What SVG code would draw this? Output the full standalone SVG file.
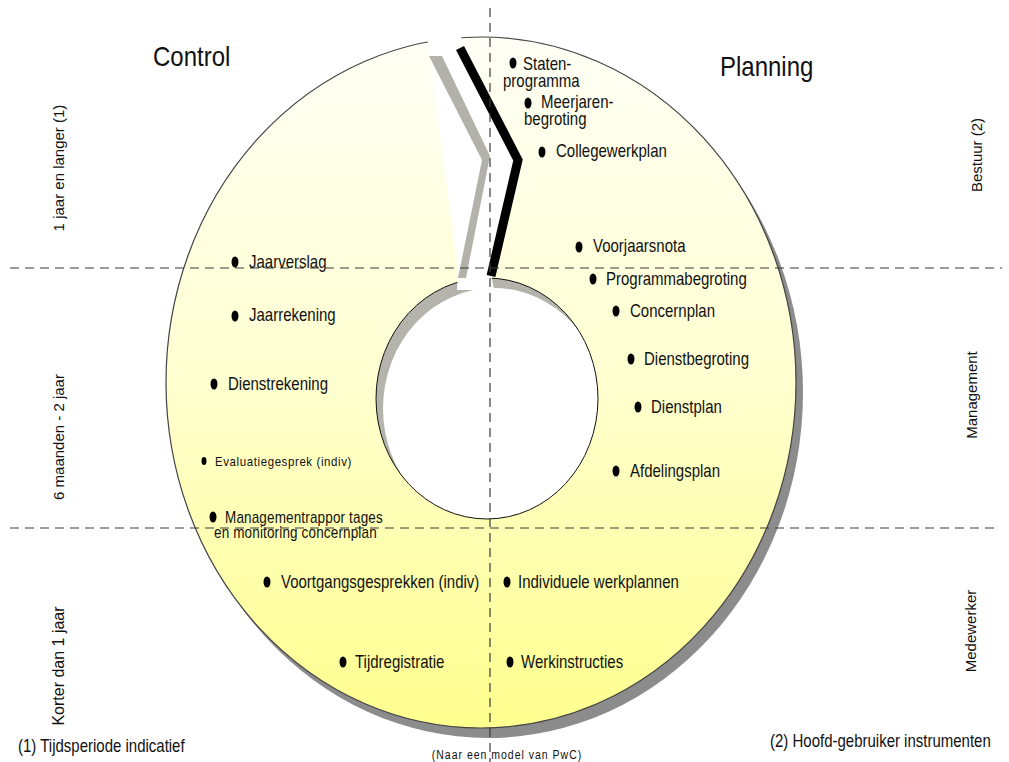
<svg xmlns="http://www.w3.org/2000/svg" width="1009" height="762" viewBox="0 0 1009 762">
<style>
.t{font-family:"Liberation Sans",Arial,sans-serif;font-size:15px;fill:#111}
.big{font-size:24px}
.sm{font-size:11.5px;letter-spacing:0.6px}
.mr{font-size:13.5px;letter-spacing:0.15px}
.note{font-size:10.5px;letter-spacing:1px}
.dash{stroke:#3a3a3a;stroke-width:1.2;stroke-dasharray:9 6;fill:none}
.b{fill:#000}
</style>
<defs>
<linearGradient id="yel" x1="0" y1="37" x2="0" y2="728" gradientUnits="userSpaceOnUse">
<stop offset="0" stop-color="#fffff6"/>
<stop offset="0.5" stop-color="#ffffd0"/>
<stop offset="1" stop-color="#ffff8e"/>
</linearGradient>
</defs>
<rect width="1009" height="762" fill="#fff"/>
<g id="ring">
<ellipse cx="488" cy="392.5" rx="315" ry="345.5" fill="#8c8c8c"/>
<ellipse cx="487" cy="398.5" rx="111" ry="120.5" fill="#b4b4ac"/>
<ellipse cx="494" cy="408.5" rx="111" ry="120.5" fill="#fff"/>
<path d="M166,382.5a315,345.5 0 1,0 630,0a315,345.5 0 1,0 -630,0ZM376,398.5a111,120.5 0 1,0 222,0a111,120.5 0 1,0 -222,0Z" fill="url(#yel)" fill-rule="evenodd" stroke="none"/>
<ellipse cx="481" cy="382.5" rx="315" ry="345.5" fill="none" stroke="#444" stroke-width="1.2"/>
<ellipse cx="487" cy="398.5" rx="111" ry="120.5" fill="none" stroke="#111" stroke-width="1"/>
<polygon points="422,18 428,42 458,272 457,290 494,290 491,274 518,160 461,49 462,18" fill="#fff"/>
<polygon points="429,56 442,56 490,156 466,278 458,278 482,160" fill="#b2b2aa"/>
<polyline points="460,48 518,160 491,276" fill="none" stroke="#000" stroke-width="9" stroke-linejoin="miter"/>
</g>
<g id="connectors">
<line class="dash" x1="490" y1="8" x2="490" y2="762"/>
<line class="dash" x1="10" y1="268" x2="1002" y2="268"/>
<line class="dash" x1="10" y1="528" x2="996" y2="528"/>
</g>
<g id="headers">
<text class="t big" transform="matrix(1 0 0 1.17 153 66)">Control</text>
<text class="t big" transform="matrix(1 0 0 1.17 720 76)">Planning</text>
</g>
<g id="side-left">
<text class="t" text-anchor="middle" transform="translate(64,168) rotate(-90)">1 jaar en langer (1)</text>
<text class="t" text-anchor="middle" transform="translate(64,437) rotate(-90)">6 maanden - 2 jaar</text>
<text class="t" text-anchor="middle" style="font-size:16px" transform="translate(64,666) rotate(-90)">Korter dan 1 jaar</text>
</g>
<g id="side-right">
<text class="t" text-anchor="middle" transform="translate(982,155) rotate(-90)">Bestuur (2)</text>
<text class="t" text-anchor="middle" transform="translate(977,395) rotate(-90)">Management</text>
<text class="t" text-anchor="middle" transform="translate(976,631) rotate(-90)">Medewerker</text>
</g>
<g id="staten"><ellipse class="b" cx="513" cy="63" rx="3.5" ry="5.5"/><text class="t" transform="matrix(1 0 0 1.17 523 70)">Staten-</text><text class="t" transform="matrix(1 0 0 1.17 503 87)">programma</text></g>
<g id="meerjaren"><ellipse class="b" cx="528" cy="103" rx="3.5" ry="5.5"/><text class="t" transform="matrix(1 0 0 1.17 541 108)">Meerjaren-</text><text class="t" transform="matrix(1 0 0 1.17 524 125)">begroting</text></g>
<g id="college"><ellipse class="b" cx="542" cy="152" rx="3.5" ry="5.5"/><text class="t" transform="matrix(1 0 0 1.17 556 157)">Collegewerkplan</text></g>
<g id="voorjaarsnota"><ellipse class="b" cx="579" cy="247" rx="3.5" ry="5.5"/><text class="t" transform="matrix(1 0 0 1.17 593 252)">Voorjaarsnota</text></g>
<g id="programmabegroting"><ellipse class="b" cx="593" cy="279" rx="3.5" ry="5.5"/><text class="t" transform="matrix(1 0 0 1.17 606 285)">Programmabegroting</text></g>
<g id="concernplan"><ellipse class="b" cx="616" cy="311" rx="3.5" ry="5.5"/><text class="t" transform="matrix(1 0 0 1.17 630 317)">Concernplan</text></g>
<g id="dienstbegroting"><ellipse class="b" cx="631" cy="359" rx="3.5" ry="5.5"/><text class="t" transform="matrix(1 0 0 1.17 644 365)">Dienstbegroting</text></g>
<g id="dienstplan"><ellipse class="b" cx="638" cy="407" rx="3.5" ry="5.5"/><text class="t" transform="matrix(1 0 0 1.17 651 413)">Dienstplan</text></g>
<g id="afdelingsplan"><ellipse class="b" cx="616" cy="471" rx="3.5" ry="5.5"/><text class="t" transform="matrix(1 0 0 1.17 630 477)">Afdelingsplan</text></g>
<g id="werkplannen"><ellipse class="b" cx="507" cy="582" rx="3.5" ry="5.5"/><text class="t" transform="matrix(1 0 0 1.17 518 588)">Individuele werkplannen</text></g>
<g id="werkinstructies"><ellipse class="b" cx="510" cy="662" rx="3.5" ry="5.5"/><text class="t" transform="matrix(1 0 0 1.17 521 668)">Werkinstructies</text></g>
<g id="jaarverslag"><ellipse class="b" cx="235" cy="262" rx="3.5" ry="5.5"/><text class="t" transform="matrix(1 0 0 1.17 249 268)">Jaarverslag</text></g>
<g id="jaarrekening"><ellipse class="b" cx="235" cy="316" rx="3.5" ry="5.5"/><text class="t" transform="matrix(1 0 0 1.17 249 321)">Jaarrekening</text></g>
<g id="dienstrekening"><ellipse class="b" cx="214" cy="384" rx="3.5" ry="5.5"/><text class="t" transform="matrix(1 0 0 1.17 228 390)">Dienstrekening</text></g>
<g id="evaluatiegesprek"><ellipse class="b" cx="204" cy="461" rx="2.5" ry="4"/><text class="t sm" transform="matrix(1 0 0 1.17 215 466)">Evaluatiegesprek (indiv)</text></g>
<g id="managementrapportages"><ellipse class="b" cx="213" cy="517" rx="3.5" ry="5.5"/><text class="t mr" transform="matrix(1 0 0 1.17 225 523)">Managementrappor tages</text><text class="t mr" transform="matrix(1 0 0 1.17 214 538)">en monitoring concernplan</text></g>
<g id="voortgangsgesprekken"><ellipse class="b" cx="267" cy="582" rx="3.5" ry="5.5"/><text class="t" transform="matrix(1 0 0 1.17 281 588)">Voortgangsgesprekken (indiv)</text></g>
<g id="tijdregistratie"><ellipse class="b" cx="343" cy="662" rx="3.5" ry="5.5"/><text class="t" transform="matrix(1 0 0 1.17 355 668)">Tijdregistratie</text></g>
<g id="footnotes">
<text class="t" transform="matrix(1 0 0 1.17 18 752)">(1) Tijdsperiode indicatief</text>
<text class="t" transform="matrix(1 0 0 1.17 770 747)">(2) Hoofd-gebruiker instrumenten</text>
<text class="t note" text-anchor="middle" transform="matrix(1 0 0 1.17 507 759)">(Naar een model van PwC)</text>
</g>
</svg>
